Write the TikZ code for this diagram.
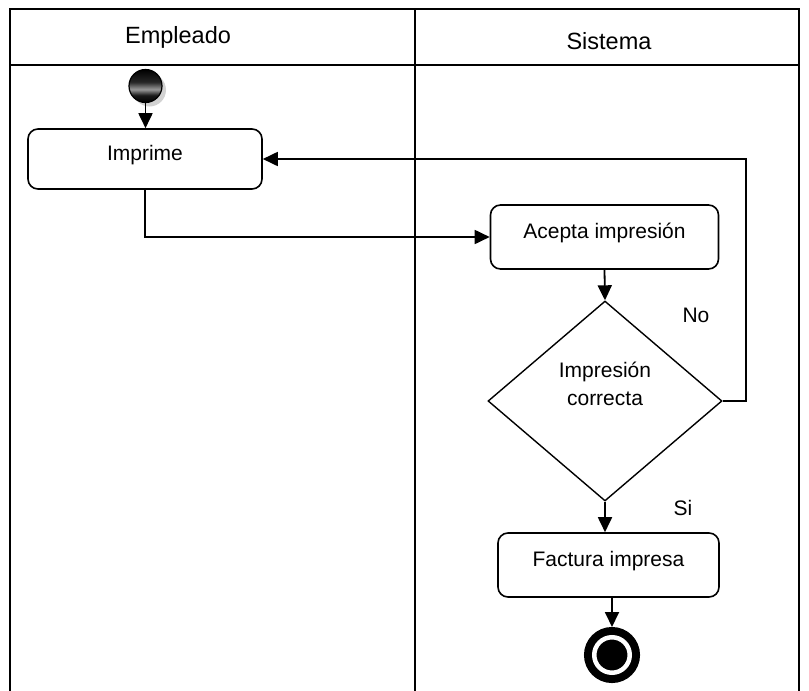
\documentclass[tikz,border=0pt]{standalone}
\usepackage{fontspec}
\setmainfont{Liberation Sans}
\usetikzlibrary{arrows.meta, shapes.geometric, shadows}
\pgfdeclareverticalshading{startball}{100bp}{%
  color(0bp)=(black); color(25bp)=(black); color(36bp)=(black!90);
  color(45bp)=(gray!80); color(56bp)=(black!85); color(75bp)=(black);
  color(100bp)=(black)}

\begin{document}
\begin{tikzpicture}[
  x=1pt, y=-1pt,
  lane/.style={line width=1.6pt, black},
  lanehead/.style={font=\fontsize{23.5}{28}\selectfont},
  action/.style={
    draw, line width=1.6pt, rounded corners=10pt, inner sep=0pt,
    font=\fontsize{21}{28}\selectfont, text height=16pt, text depth=14pt},
  decision/.style={
    draw, diamond, line width=1.4pt, inner sep=0pt,
    minimum width=234pt, minimum height=200pt},
  dtext/.style={font=\fontsize{21}{28}\selectfont, align=center},
  guard/.style={font=\fontsize{21}{28}\selectfont},
  flow/.style={-{Triangle[length=15pt, width=14pt]}, line width=1.8pt},
  startnode/.style={
    circle, draw, line width=1.2pt, minimum size=33pt, inner sep=0pt,
    shading=startball,
    drop shadow={shadow xshift=4pt, shadow yshift=-4pt, fill=gray!70}},
  endnode/.style={
    circle, fill=black, draw=black, line width=8pt, double=white,
    double distance=4.5pt, minimum size=35.5pt, inner sep=0pt, outer sep=10.25pt},
]
  \useasboundingbox (0,0) rectangle (809,691);

  %% ─── SWIMLANES ───────────────────────────────────────────────────────
  \draw[lane] (10,691) -- (10,9) -- (799,9) -- (799,691);
  \draw[lane] (10,65) -- (799,65);
  \draw[lane] (415,9) -- (415,691);
  \node[lanehead] (empleado) at (178,37) {Empleado};
  \node[lanehead] (sistema) at (609,41) {Sistema};

  %% ─── EMPLEADO ────────────────────────────────────────────────────────
  \node[startnode] (start) at (145.5,86) {};
  \node[action, minimum width=234pt, minimum height=60pt]
    (imprime) at (145,159) {Imprime};

  %% ─── SISTEMA ─────────────────────────────────────────────────────────
  \node[action, minimum width=228pt, minimum height=64pt]
    (acepta) at (604.5,237) {Acepta impresión};
  \node[decision] (decision) at (605,401) {};
  \node[dtext] (decisiontext) at (605,384) {Impresión\\correcta};
  \node[guard] (no) at (696,315) {No};
  \node[guard] (si) at (683,508) {Si};
  \node[action, minimum width=221pt, minimum height=64pt]
    (factura) at (608.5,565) {Factura impresa};
  \node[endnode] (end) at (612,655) {};

  %% ─── FLOWS ───────────────────────────────────────────────────────────
  \draw[flow] (start.south) -- (start.south |- imprime.north);
  \draw[flow] (imprime.south) |- (acepta.west);
  \draw[flow] (acepta.south) -- (decision.north);
  \draw[flow] (decision.east) -- ++(23,0) |- (imprime.east);
  \draw[flow] (decision.south) -- (decision.south |- factura.north);
  \draw[flow] (factura.south -| end) -- (end);
\end{tikzpicture}
\end{document}
